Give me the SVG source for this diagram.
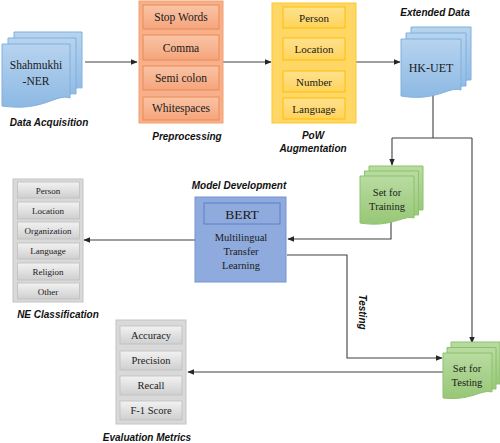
<svg xmlns="http://www.w3.org/2000/svg" width="500" height="443" viewBox="0 0 500 443">
<defs>
<linearGradient id="gBlue" x1="0" y1="0" x2="0" y2="1"><stop offset="0" stop-color="#b7d3ef"/><stop offset="1" stop-color="#8db9e3"/></linearGradient>
<linearGradient id="gGreen" x1="0" y1="0" x2="0" y2="1"><stop offset="0" stop-color="#b9dba1"/><stop offset="1" stop-color="#97c777"/></linearGradient>
<linearGradient id="gOr" x1="0" y1="0" x2="0" y2="1"><stop offset="0" stop-color="#f9c4a6"/><stop offset="1" stop-color="#f5a57c"/></linearGradient>
<linearGradient id="gYe" x1="0" y1="0" x2="0" y2="1"><stop offset="0" stop-color="#ffe28f"/><stop offset="1" stop-color="#ffd35a"/></linearGradient>
<linearGradient id="gGray" x1="0" y1="0" x2="0" y2="1"><stop offset="0" stop-color="#f2f2f2"/><stop offset="1" stop-color="#cfcfcf"/></linearGradient>
<marker id="arr" viewBox="0 0 10 10" refX="9" refY="5" markerWidth="7" markerHeight="7" orient="auto" markerUnits="userSpaceOnUse"><path d="M0,1 L10,5 L0,9 z" fill="#262626"/></marker>
<style>
.conn{fill:none;stroke:#404040;stroke-width:1.1}
.ser{font-family:"Liberation Serif","Times New Roman",serif;fill:#1a1a1a;text-anchor:middle}
.lbl{font-family:"Liberation Sans",Arial,sans-serif;font-weight:bold;font-style:italic;font-size:10px;fill:#111;text-anchor:middle}
.blue{fill:url(#gBlue);stroke:#7fb0de;stroke-width:1}
.green{fill:url(#gGreen);stroke:#8cc26a;stroke-width:1}
.orOut{fill:#f7b08b;stroke:#f4a06c;stroke-width:1}
.orIn{fill:url(#gOr);stroke:#ee8a50;stroke-width:1}
.yeOut{fill:#ffd766;stroke:#ffc72c;stroke-width:1}
.yeIn{fill:url(#gYe);stroke:#ffc000;stroke-width:1}
.grOut{fill:#d9d9d9;stroke:#c4c4c4;stroke-width:1}
.grIn{fill:url(#gGray);stroke:#bfbfbf;stroke-width:0.8}
.bertOut{fill:#8faadc;stroke:#7594d3;stroke-width:1}
.bertIn{fill:#8faadc;stroke:#5d80c8;stroke-width:1}
</style>
</defs>
<rect width="500" height="443" fill="#ffffff"/>

<g id="connectors">
<path class="conn" d="M85,62 H137" marker-end="url(#arr)"/>
<path class="conn" d="M223,62 H271" marker-end="url(#arr)"/>
<path class="conn" d="M356,62 H400" marker-end="url(#arr)"/>
<path class="conn" d="M433,95 V138"/>
<path class="conn" d="M392,138 H472"/>
<path class="conn" d="M392,138 V165" marker-end="url(#arr)"/>
<path class="conn" d="M472,138 V343" marker-end="url(#arr)"/>
<path class="conn" d="M391,220 V239 H288" marker-end="url(#arr)"/>
<path class="conn" d="M195,240 H84" marker-end="url(#arr)"/>
<path class="conn" d="M287,255 H347 V358 H442" marker-end="url(#arr)"/>
<path class="conn" d="M443,372 H188" marker-end="url(#arr)"/>
<text class="lbl" transform="translate(359,312) rotate(90)" font-size="9.5">Testing</text>
</g>

<g id="data-acquisition">
<path class="blue" d="M14,32 H82 V88 C70,86 60,100 14,96 Z"/>
<path class="blue" d="M8,38 H76 V94 C64,92 54,106 8,102 Z"/>
<path class="blue" d="M2,44 H70 V98 C56,93 44,112 2,106 Z"/>
<text class="ser" x="36" y="69" font-size="11.5">Shahmukhi</text>
<text class="ser" x="36" y="85" font-size="11.5">-NER</text>
<text class="lbl" x="49" y="126">Data Acquisition</text>
</g>

<g id="preprocessing">
<rect class="orOut" x="139" y="1" width="84" height="122"/>
<rect class="orIn" x="143" y="5" width="76" height="24"/>
<rect class="orIn" x="143" y="35" width="76" height="25"/>
<rect class="orIn" x="143" y="66" width="76" height="24"/>
<rect class="orIn" x="143" y="97" width="76" height="23"/>
<text class="ser" x="181" y="21" font-size="11.5">Stop Words</text>
<text class="ser" x="181" y="51.5" font-size="11.5">Comma</text>
<text class="ser" x="181" y="82" font-size="11.5">Semi  colon</text>
<text class="ser" x="181" y="112" font-size="11.5">Whitespaces</text>
<text class="lbl" x="187" y="140">Preprocessing</text>
</g>

<g id="pow-augmentation">
<rect class="yeOut" x="272" y="3" width="84" height="120"/>
<rect class="yeIn" x="283" y="7" width="62" height="21"/>
<rect class="yeIn" x="283" y="38" width="62" height="22"/>
<rect class="yeIn" x="283" y="71" width="62" height="21"/>
<rect class="yeIn" x="283" y="98" width="62" height="21"/>
<text class="ser" x="314" y="21.5" font-size="11">Person</text>
<text class="ser" x="314" y="53" font-size="11">Location</text>
<text class="ser" x="314" y="85.5" font-size="11">Number</text>
<text class="ser" x="314" y="112.5" font-size="11">Language</text>
<text class="lbl" x="313" y="139">PoW</text>
<text class="lbl" x="313" y="152">Augmentation</text>
</g>

<g id="extended-data">
<path class="blue" d="M411,27 H471 V80 C460,79 450,90 411,86 Z"/>
<path class="blue" d="M406,33 H466 V86 C455,85 445,96 406,92 Z"/>
<path class="blue" d="M401,39 H461 V90 C448,86 437,102 401,96 Z"/>
<text class="ser" x="431" y="72" font-size="12">HK-UET</text>
<text class="lbl" x="435" y="16">Extended Data</text>
</g>

<g id="set-training">
<path class="green" d="M369,166 H423 V210 C413,209 405,218 369,214 Z"/>
<path class="green" d="M364.5,171 H418.5 V215 C408,214 400,223 364.5,219 Z"/>
<path class="green" d="M360,176 H414 V218 C402,215 392,228 360,223 Z"/>
<text class="ser" x="387" y="196" font-size="10.5">Set for</text>
<text class="ser" x="387" y="210" font-size="10.5">Training</text>
</g>

<g id="model-development">
<rect class="bertOut" x="195" y="197" width="91" height="85"/>
<rect class="bertIn" x="204" y="203" width="76" height="21"/>
<text class="ser" x="242" y="219" font-size="13.5">BERT</text>
<text class="ser" x="241" y="241" font-size="10.5">Multilingual</text>
<text class="ser" x="241" y="255" font-size="10.5">Transfer</text>
<text class="ser" x="241" y="269" font-size="10.5">Learning</text>
<text class="lbl" x="239" y="189">Model Development</text>
</g>

<g id="ne-classification">
<rect class="grOut" x="13" y="179" width="70" height="123"/>
<rect class="grIn" x="17.5" y="182" width="62" height="16"/>
<rect class="grIn" x="17.5" y="202" width="62" height="17"/>
<rect class="grIn" x="17.5" y="222" width="62" height="17"/>
<rect class="grIn" x="17.5" y="243" width="62" height="16"/>
<rect class="grIn" x="17.5" y="263" width="62" height="17"/>
<rect class="grIn" x="17.5" y="283" width="62" height="16"/>
<text class="ser" x="48" y="193.5" font-size="9">Person</text>
<text class="ser" x="48" y="213.5" font-size="9">Location</text>
<text class="ser" x="48" y="233.5" font-size="9">Organization</text>
<text class="ser" x="48" y="254" font-size="9">Language</text>
<text class="ser" x="48" y="274.5" font-size="9">Religion</text>
<text class="ser" x="48" y="294.5" font-size="9">Other</text>
<text class="lbl" x="58" y="318">NE Classification</text>
</g>

<g id="set-testing">
<path class="green" d="M451,342 H500 V384 C491,383 483,392 451,388 Z"/>
<path class="green" d="M447,347.5 H496 V389 C487,388 479,397 447,393 Z"/>
<path class="green" d="M443,353 H492 V392 C481,389 472,401 443,398 Z"/>
<text class="ser" x="467" y="372" font-size="10.5">Set for</text>
<text class="ser" x="467" y="386" font-size="10.5">Testing</text>
</g>

<g id="evaluation-metrics">
<rect class="grOut" x="116" y="320" width="70" height="104"/>
<rect class="grIn" x="120" y="326" width="62" height="18"/>
<rect class="grIn" x="120" y="351" width="62" height="19"/>
<rect class="grIn" x="120" y="376" width="62" height="19"/>
<rect class="grIn" x="120" y="401" width="62" height="19"/>
<text class="ser" x="151" y="338.5" font-size="10.5">Accuracy</text>
<text class="ser" x="151" y="364" font-size="10.5">Precision</text>
<text class="ser" x="151" y="389" font-size="10.5">Recall</text>
<text class="ser" x="151" y="414" font-size="10.5">F-1 Score</text>
<text class="lbl" x="147" y="441">Evaluation Metrics</text>
</g>
</svg>
